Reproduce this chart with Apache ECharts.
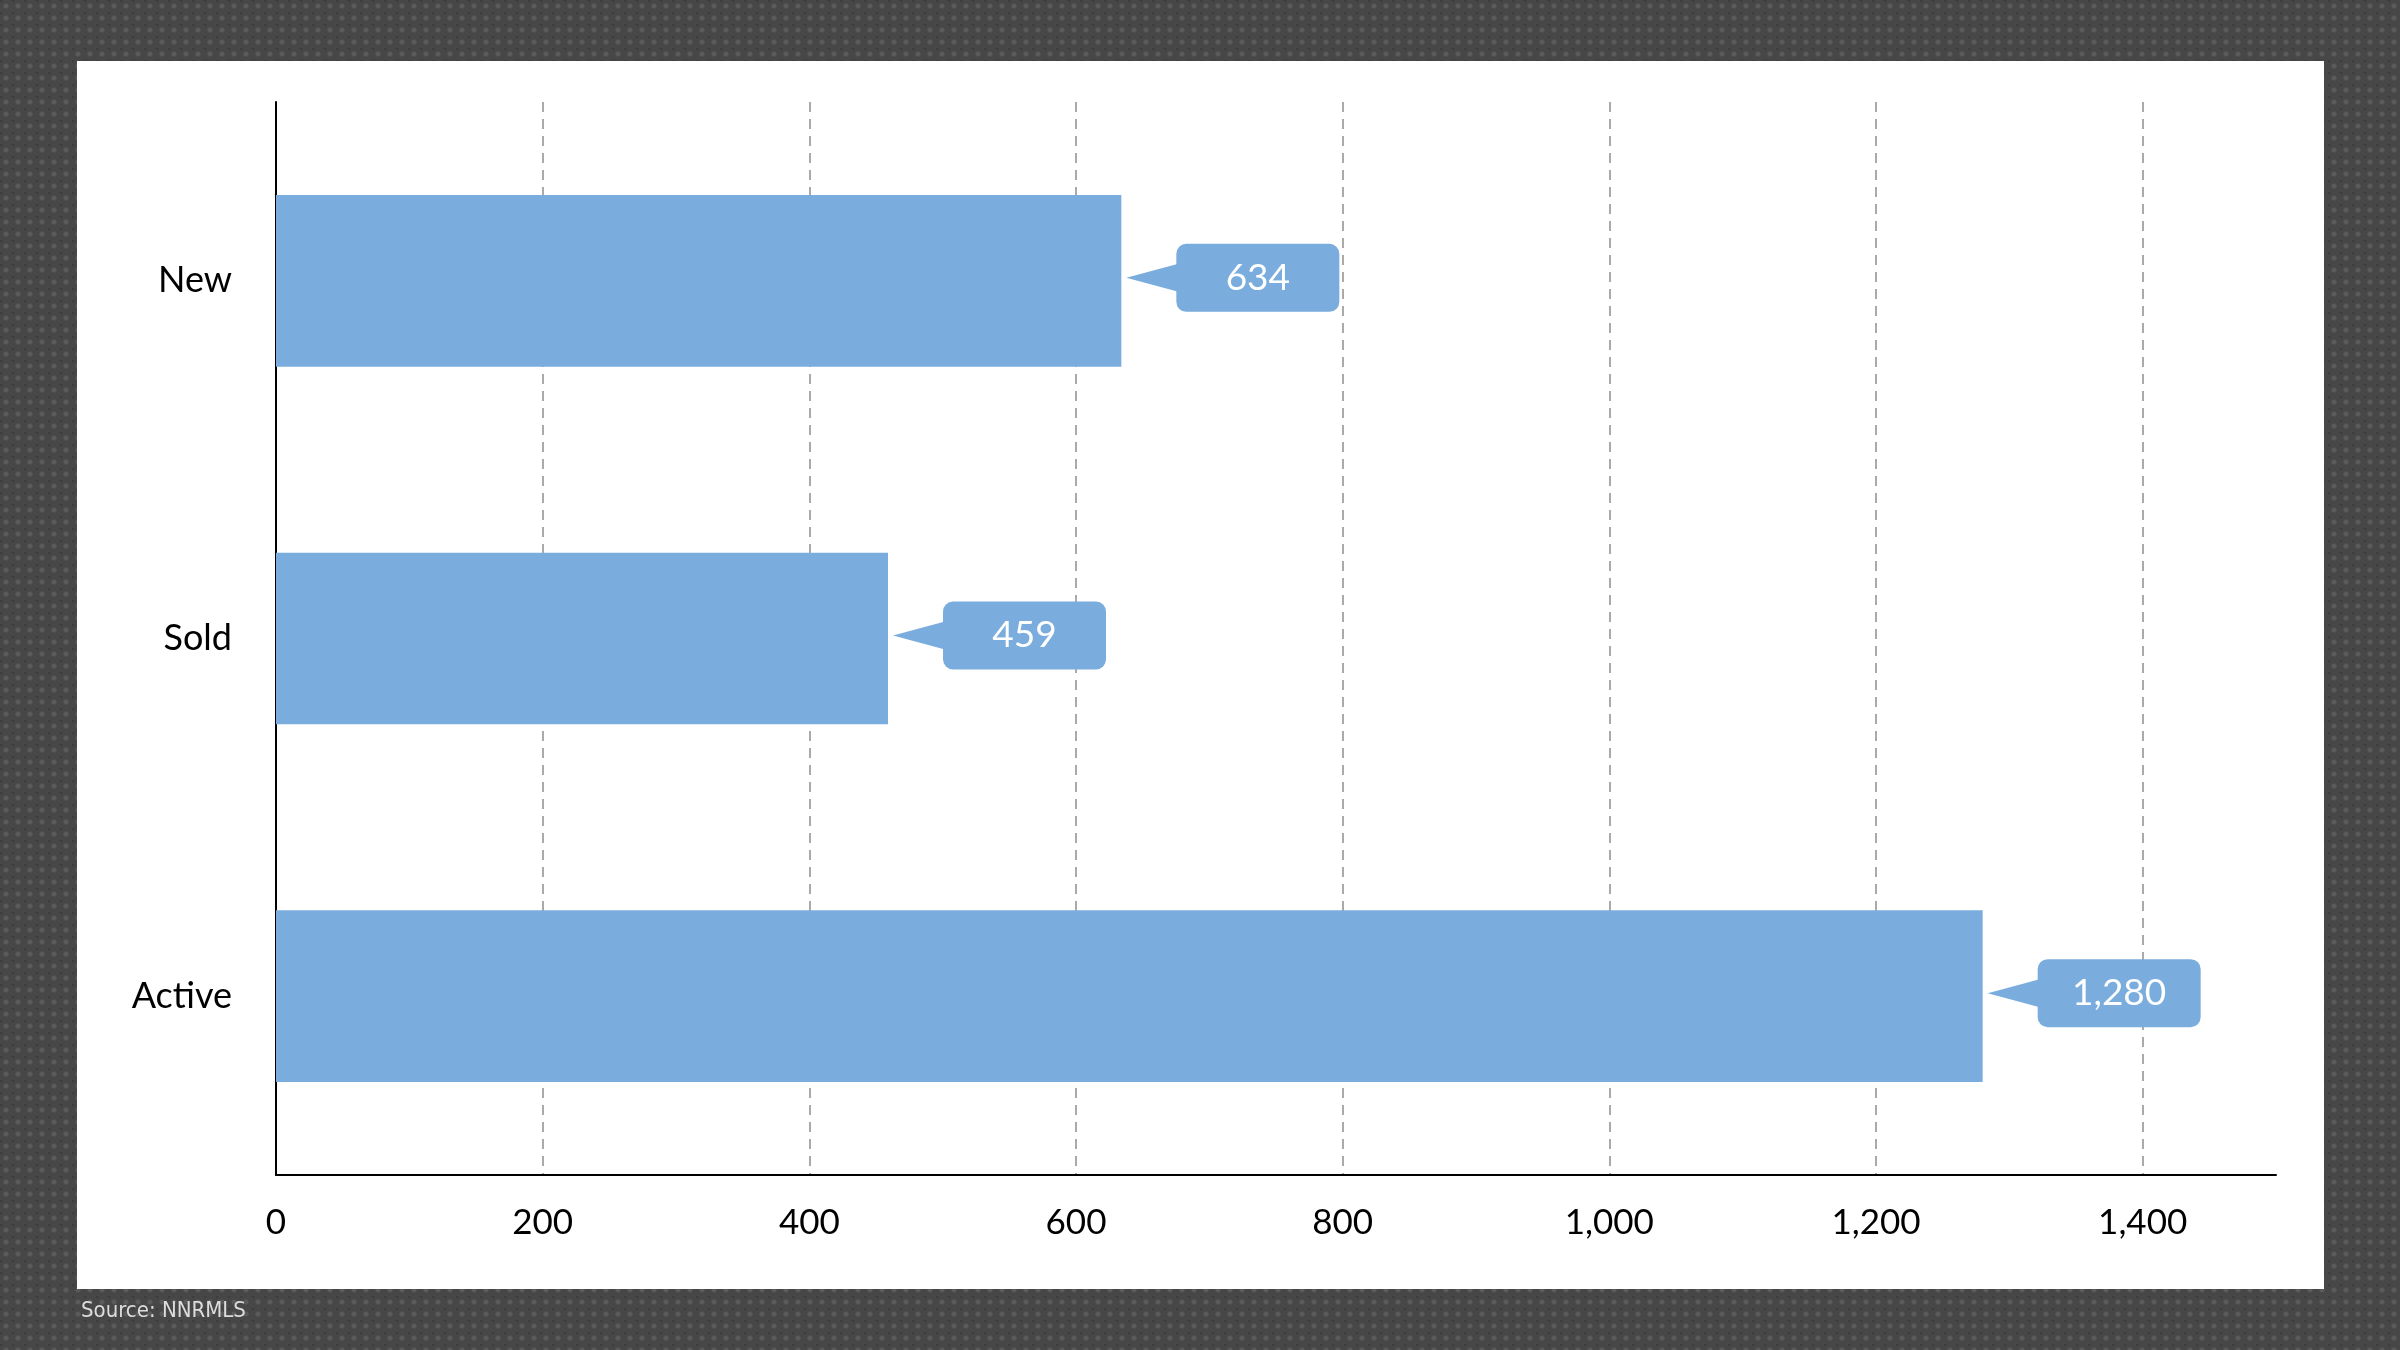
<!DOCTYPE html>
<html><head><meta charset="utf-8">
<script src="https://cdn.jsdelivr.net/npm/echarts@6/dist/echarts.min.js"></script>
<style>
html,body{margin:0;padding:0;width:2400px;height:1350px;overflow:hidden;
background-color:#474747;
background-image:radial-gradient(circle at 50% 50%, #5a5a5a 2px, transparent 3px),radial-gradient(circle at 0 0, #3d3d3d 2px, transparent 3px);
background-size:12px 12px;}
#c{width:2400px;height:1350px;}
</style></head><body><div id="c"></div>
<script>
const categories = ['Active', 'Sold', 'New'];
const values = [1280, 459, 634];
const tickMax = 1500;

const chart = echarts.init(document.getElementById('c'));
chart.setOption({
  animation: false,
  graphic: [
    {type:'rect', z:-10, shape:{x:77,y:61,width:2247,height:1228}, style:{fill:'#ffffff'}},
    {type:'text', left:81, top:1300, style:{text:'Source: NNRMLS', fill:'#dddddd', font:'22px "Liberation Sans Narrow", "DejaVu Sans Condensed", sans-serif'}}
  ],
  grid: {left:276, right:124, top:102, bottom:175},
  xAxis: {
    type:'value', min:0, max:tickMax, interval:200,
    axisLine:{show:true, lineStyle:{color:'#000', width:2}},
    axisTick:{show:false},
    axisLabel:{color:'#000', fontSize:35, fontFamily:'Lato', margin:30, showMaxLabel:false},
    splitLine:{show:true, showMinLine:false, showMaxLine:false, lineStyle:{type:[10,7], color:'#aaaaaa', width:2}}
  },
  yAxis: {
    type:'category', data:categories,
    axisLine:{show:true, lineStyle:{color:'#000', width:2}},
    axisTick:{show:false},
    axisLabel:{color:'#000', fontSize:36, fontFamily:'Lato', margin:44}
  },
  series: [
    {type:'bar', data:values, barWidth:'48%', itemStyle:{color:'#7aaddd'}},
    {type:'custom', data:values.map((v,i)=>[v,i]), z:5,
     renderItem:function(params, api){
       const p = api.coord([api.value(0), api.value(1)]);
       const x = p[0], y = p[1] - 3;
       const bx = x + 55, w = 163, h = 68;
       return {type:'group', children:[
         {type:'polygon', shape:{points:[[x+5,y],[bx+2,y-14],[bx+2,y+14]]}, style:{fill:'#7aaddd'}},
         {type:'rect', shape:{x:bx, y:y-h/2, width:w, height:h, r:10}, style:{fill:'#7aaddd'}},
         {type:'text', x:bx+w/2, y:y, style:{text:api.value(0).toLocaleString('en-US'), fill:'#fff', font:'37px Lato', align:'center', verticalAlign:'middle'}}
       ]};
     }}
  ]
});
</script></body></html>
